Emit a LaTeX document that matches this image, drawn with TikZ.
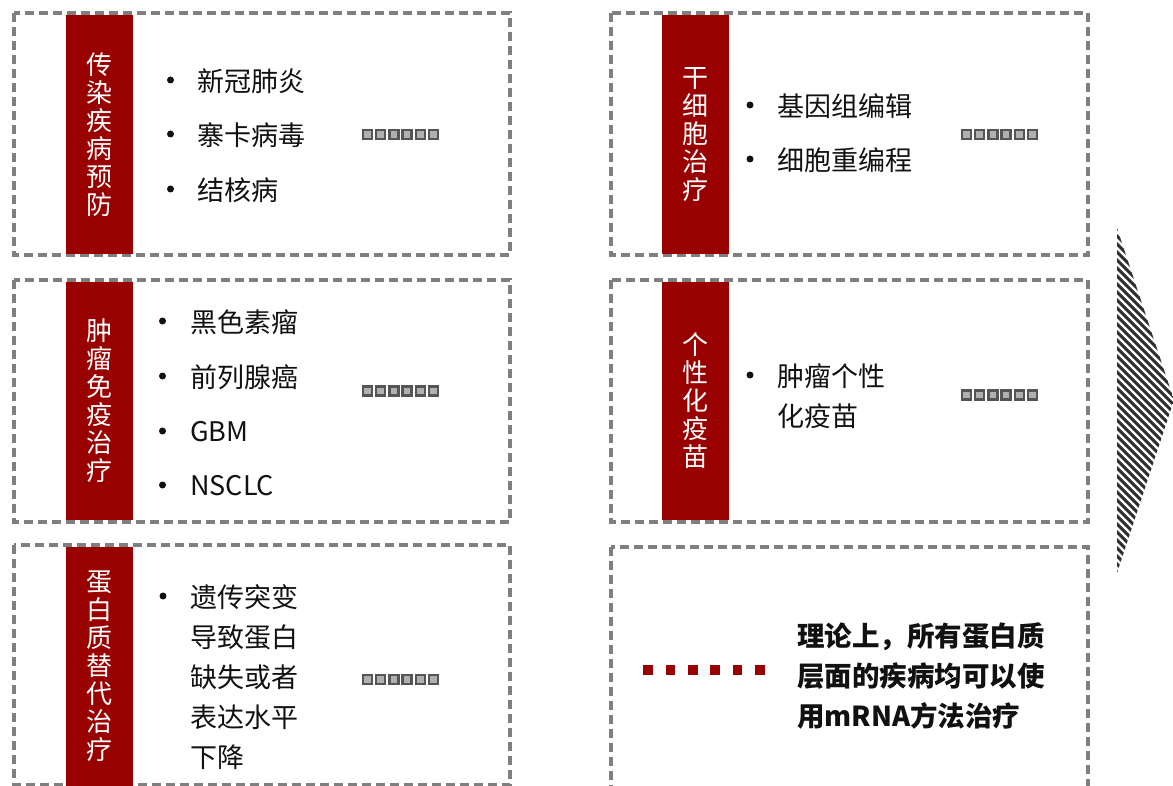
\documentclass[tikz,border=0pt]{standalone}
\usepackage{fontspec}
\setmainfont{Noto Sans CJK SC}
\definecolor{barred}{HTML}{990000}
\definecolor{boxgray}{HTML}{7F7F7F}
\definecolor{sqdark}{HTML}{555555}
\definecolor{sqlight}{HTML}{B0B0B0}
\definecolor{txt}{HTML}{111111}
\definecolor{stripe}{HTML}{2E2E2E}
\begin{document}
\begin{tikzpicture}[x=1pt,y=-1pt,
  dbox/.style={draw=boxgray, line width=3.3pt, dash pattern=on 9pt off 5pt},
  redbar/.style={fill=barred, inner sep=0},
  bartext/.style={text=white, font=\fontsize{26}{28}\selectfont, align=center, inner sep=0},
  itemtext/.style={anchor=west, inner sep=0, font=\fontsize{27}{40}\selectfont, text=txt, align=left},
  boldtext/.style={anchor=west, inner sep=0, font=\bfseries\fontsize{27.5}{40}\selectfont, text=txt, align=left},
  bul/.style={circle, fill=txt, inner sep=0, minimum size=7pt},
  gsq/.style={draw=sqdark, fill=sqlight, line width=2.4pt, minimum size=9pt, inner sep=0},
  rsq/.style={fill=barred, minimum size=9.5pt, inner sep=0}]
\useasboundingbox (0,0) rectangle (1173,786);
\clip (0,0) rectangle (1173,786);

% dashed boxes
\draw[dbox] (14,13) rectangle (510,255);
\draw[dbox] (14,280) rectangle (510,522);
\draw[dbox] (14,545) rectangle (510,785);
\draw[dbox] (611,13) rectangle (1088,255);
\draw[dbox] (611,280) rectangle (1088,522);
\draw[dbox] (611,547) rectangle (1088,800);

% red bars
\node[redbar, minimum width=67pt, minimum height=239pt] (barA) at (99.5,134.5) {};
\node[redbar, minimum width=67pt, minimum height=238pt] (barB) at (99.5,401) {};
\node[redbar, minimum width=67pt, minimum height=250pt] (barC) at (99.5,672) {};
\node[redbar, minimum width=67pt, minimum height=239pt] (barD) at (695.5,134.5) {};
\node[redbar, minimum width=67pt, minimum height=238pt] (barE) at (695.5,401) {};

\node[bartext] (tA) at (99.5,134.5) {传\\染\\疾\\病\\预\\防};
\node[bartext] (tB) at (99.5,401) {肿\\瘤\\免\\疫\\治\\疗};
\node[bartext] (tC) at (99.5,666.5) {蛋\\白\\质\\替\\代\\治\\疗};
\node[bartext] (tD) at (695.5,134.5) {干\\细\\胞\\治\\疗};
\node[bartext] (tE) at (695.5,401) {个\\性\\化\\疫\\苗};

% box A items
\node[bul] (bA1) at (170.5,80) {};
\node[bul] (bA2) at (170.5,134) {};
\node[bul] (bA3) at (170.5,189) {};
\node[itemtext] (iA1) at (197,81) {新冠肺炎};
\node[itemtext] (iA2) at (197,135) {寨卡病毒};
\node[itemtext] (iA3) at (197,190) {结核病};

% box B items
\node[bul] (bB1) at (162.5,321) {};
\node[bul] (bB2) at (162.5,376) {};
\node[bul] (bB3) at (162.5,431) {};
\node[bul] (bB4) at (162.5,485) {};
\node[itemtext] (iB1) at (190,322) {黑色素瘤};
\node[itemtext] (iB2) at (190,377) {前列腺癌};
\node[itemtext] (iB3) at (190,432) {GBM};
\node[itemtext] (iB4) at (190,486) {NSCLC};

% box C items
\node[bul] (bC1) at (163,596) {};
\node[itemtext] (iC1) at (190,677) {遗传突变\\导致蛋白\\缺失或者\\表达水平\\下降};

% box D items
\node[bul] (bD1) at (750,105) {};
\node[bul] (bD2) at (750,159) {};
\node[itemtext] (iD1) at (777,106) {基因组编辑};
\node[itemtext] (iD2) at (777,160) {细胞重编程};

% box E items
\node[bul] (bE1) at (750,375) {};
\node[itemtext] (iE1) at (777,396) {肿瘤个性\\化疫苗};

% box F text
\node[boldtext] (iF1) at (797,676) {理论上，所有蛋白质\\层面的疾病均可以使\\用mRNA方法治疗};

% gray square ellipses
\foreach \gx/\gy/\nm in {367.5/134.5/gA, 367.5/391/gB, 367.5/679.5/gC, 966.5/134.5/gD, 966.5/395/gE}{
  \foreach \k in {0,...,5}{
    \node[gsq] (\nm\k) at (\gx+13.2*\k,\gy) {};
  }
}

% red square ellipsis
\foreach \k in {0,...,5}{
  \node[rsq] (r\k) at (648+22.4*\k,670) {};
}

% striped chevron arrow
\begin{scope}
  \clip (1117,228) -- (1174,400) -- (1117,573) -- cycle;
  \foreach \d in {-360,-352,...,64}{
    \draw[stripe, line width=3pt] (1117+\d,220) -- ++(420,420);
  }
\end{scope}
\end{tikzpicture}
\end{document}
